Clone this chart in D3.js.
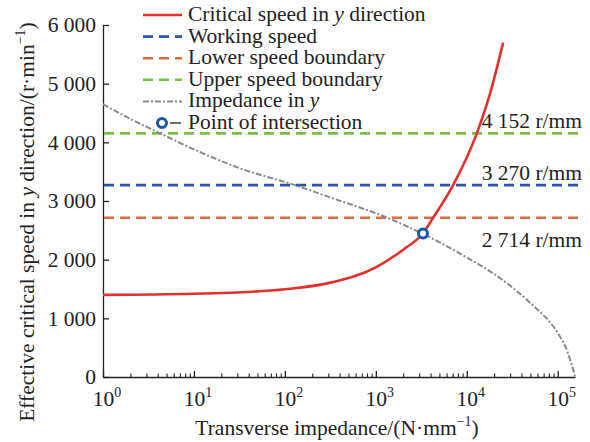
<!DOCTYPE html>
<html>
<head>
<meta charset="utf-8">
<script src="https://cdn.jsdelivr.net/npm/d3@7"></script>
<style>
  body { margin: 0; background: #fff; }
  svg { display: block; font-family: "Liberation Serif", "Times New Roman", serif; }
</style>
</head>
<body>
<svg id="chart" width="590" height="442"></svg>
<script>
// critical speed in y direction (x = transverse impedance, N/mm)
const critX = [1, 10, 30, 100, 300, 1000, 2000, 3300, 4266, 7079, 12880, 17780, 25120];
const critY = [1400, 1420, 1440, 1495, 1600, 1870, 2170, 2450, 2714, 3270, 4152, 4800, 5700];

// impedance in y
const impX = [1, 2, 4.27, 10, 31.6, 129, 316, 1122, 3300, 8511, 23440, 50120, 100000, 123000, 138000, 148000, 154900];
const impY = [4650, 4400, 4152, 3880, 3560, 3270, 3060, 2761, 2440, 2100, 1680, 1260, 750, 500, 280, 130, 0];

// horizontal speed levels
const levels = [
  { name: "Working speed", value: 3270, color: "#2756a6", label: "3 270 r/mm", dy: -5 },
  { name: "Lower speed boundary", value: 2714, color: "#e06b35", label: "2 714 r/mm", dy: 29 },
  { name: "Upper speed boundary", value: 4152, color: "#76c043", label: "4 152 r/mm", dy: -5.5 }
];

const crossing = { x: 3300, y: 2445 };

const yTicks = [0, 1000, 2000, 3000, 4000, 5000, 6000];
const xMajor = [1, 10, 100, 1000, 10000, 100000];
const FS = 21.5;

const svg = d3.select("#chart");
const x = d3.scaleLog().domain([1, 154900]).range([103, 575]);
const y = d3.scaleLinear().domain([0, 6000]).range([377, 25]);

const fmt = d3.formatLocale({ decimal: ".", thousands: " ", grouping: [3], currency: ["", ""] }).format(",");

// y axis
const yAxis = svg.append("g")
  .attr("transform", `translate(${x.range()[0]},0)`)
  .call(d3.axisLeft(y).tickValues(yTicks).tickSize(-6).tickSizeOuter(0).tickPadding(7).tickFormat(fmt));
yAxis.selectAll("text").attr("font-size", FS).attr("fill", "#222").attr("font-family", "Liberation Serif");
yAxis.selectAll("line, path").attr("stroke", "#222").attr("stroke-width", 1.3);

// x axis: major + minor ticks pointing inward
const minor = [];
for (let e = 0; e <= 5; e++) for (let m = 2; m <= 9; m++) { const v = m * Math.pow(10, e); if (v < 154900) minor.push(v); }
const xAxis = svg.append("g")
  .attr("transform", `translate(0,${y(0)})`)
  .call(d3.axisBottom(x).tickValues(xMajor).tickSize(-6).tickSizeOuter(0).tickFormat(""));
xAxis.selectAll("line, path").attr("stroke", "#222").attr("stroke-width", 1.3);
const xMinor = svg.append("g")
  .attr("transform", `translate(0,${y(0)})`)
  .call(d3.axisBottom(x).tickValues(minor).tickSize(-3.5).tickSizeOuter(0).tickFormat(""));
xMinor.select("path").remove();
xMinor.selectAll("line").attr("stroke", "#222").attr("stroke-width", 1.1);

const xLab = svg.append("g").selectAll("text").data(xMajor).join("text")
  .attr("x", d => x(d) + 4).attr("y", 406)
  .attr("text-anchor", "middle").attr("font-size", FS).attr("fill", "#222");
xLab.append("tspan").text("10");
xLab.append("tspan").attr("dy", -9).attr("font-size", 14).text(d => Math.round(Math.log10(d)));

// axis titles
const xt = svg.append("text").attr("x", 337).attr("y", 435).attr("text-anchor", "middle")
  .attr("font-size", FS).attr("fill", "#222");
xt.append("tspan").text("Transverse impedance/(N·mm");
xt.append("tspan").attr("dy", -9).attr("font-size", 14).text("−1");
xt.append("tspan").attr("dy", 9).text(")");

const yt = svg.append("text").attr("transform", "translate(34,222) rotate(-90)").attr("text-anchor", "middle")
  .attr("font-size", FS).attr("fill", "#222");
yt.append("tspan").text("Effective critical speed in ");
yt.append("tspan").attr("font-style", "italic").text("y");
yt.append("tspan").text(" direction/(r·min");
yt.append("tspan").attr("dy", -9).attr("font-size", 14).text("−1");
yt.append("tspan").attr("dy", 9).text(")");

// horizontal dashed levels
svg.append("g").selectAll("line").data(levels).join("line")
  .attr("x1", x.range()[0] + 1).attr("x2", 582)
  .attr("y1", d => y(d.value)).attr("y2", d => y(d.value))
  .attr("stroke", d => d.color).attr("stroke-width", 2.6).attr("stroke-dasharray", "10,6");

svg.append("g").selectAll("text").data(levels).join("text")
  .attr("x", 582).attr("y", d => y(d.value) + d.dy)
  .attr("text-anchor", "end").attr("font-size", FS).attr("fill", "#222")
  .text(d => d.label);

// curves
const impLine = d3.line().x((d, i) => x(impX[i])).y(d => y(d)).curve(d3.curveMonotoneX);
svg.append("path").datum(impY).attr("d", impLine)
  .attr("fill", "none").attr("stroke", "#8a8a8a").attr("stroke-width", 2).attr("stroke-dasharray", "6,2,2,2");

const critLine = d3.line().x((d, i) => x(critX[i])).y(d => y(d)).curve(d3.curveMonotoneX);
svg.append("path").datum(critY).attr("d", critLine)
  .attr("fill", "none").attr("stroke", "#e3302a").attr("stroke-width", 2.6);

svg.append("circle").attr("cx", x(crossing.x)).attr("cy", y(crossing.y)).attr("r", 4.5)
  .attr("fill", "#fff").attr("stroke", "#1f55a5").attr("stroke-width", 3);

// legend
const legend = [
  { name: ["Critical speed in ", "y", " direction"], color: "#e3302a", dash: null, w: 2.6 },
  { name: ["Working speed"], color: "#2756a6", dash: "10,6", w: 2.6 },
  { name: ["Lower speed boundary"], color: "#e06b35", dash: "10,6", w: 2.6 },
  { name: ["Upper speed boundary"], color: "#76c043", dash: "10,6", w: 2.6 },
  { name: ["Impedance in ", "y"], color: "#8a8a8a", dash: "6,2,2,2", w: 2 }
];
const lg = svg.append("g");
legend.forEach((d, i) => {
  const ly = 15 + i * 21.6;
  lg.append("line").attr("x1", 143).attr("x2", 182).attr("y1", ly).attr("y2", ly)
    .attr("stroke", d.color).attr("stroke-width", d.w).attr("stroke-dasharray", d.dash);
  const t = lg.append("text").attr("x", 188).attr("y", ly + 6).attr("font-size", FS).attr("fill", "#222");
  d.name.forEach((s, k) => t.append("tspan").attr("font-style", k === 1 ? "italic" : null).text(s));
});
const py = 15 + 5 * 21.6;
lg.append("line").attr("x1", 170).attr("x2", 181).attr("y1", py).attr("y2", py).attr("stroke", "#222").attr("stroke-width", 1.3);
lg.append("circle").attr("cx", 162).attr("cy", py).attr("r", 4.5)
  .attr("fill", "#fff").attr("stroke", "#1f55a5").attr("stroke-width", 3);
lg.append("text").attr("x", 188).attr("y", py + 6).attr("font-size", FS).attr("fill", "#222").text("Point of intersection");
</script>
</body>
</html>
